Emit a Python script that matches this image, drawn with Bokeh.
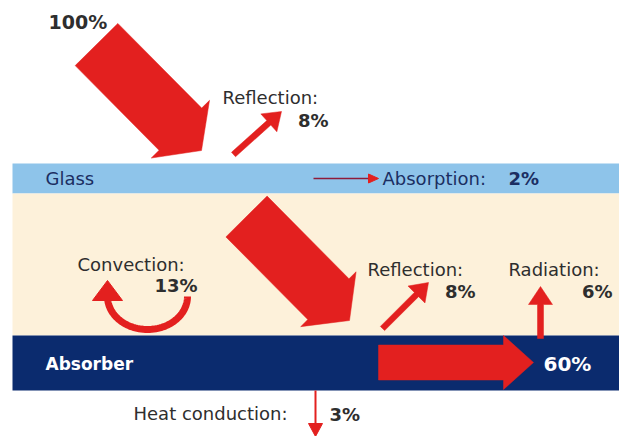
import math
from bokeh.plotting import figure
from bokeh.models import Range1d
from bokeh.core.properties import value
from bokeh.embed import file_html
from bokeh.resources import INLINE

# ---------------- data ----------------
incoming_pct = 100
layer_names = ["Glass", "Absorber"]
flow_names = ["Reflection:", "Absorption:", "Convection:", "Reflection:", "Radiation:", "Heat conduction:"]
flow_pcts = [8, 2, 13, 8, 6, 3]
useful_pct = 60

# ---------------- style ----------------
RED = "#E3201F"
GLASS = "#8EC4EA"
CREAM = "#FDF1DA"
NAVY = "#0B2B6E"
TXT = "#2E2E2E"
FONT = value("DejaVu Sans")
FS = "18px"
FB = "18px"

p = figure(width=619, height=436, output_backend="svg", toolbar_location=None,
           x_range=Range1d(0, 619), y_range=Range1d(436, 0), min_border=0)
p.axis.visible = False
p.grid.visible = False
p.outline_line_color = None
p.background_fill_color = "white"
p.border_fill_color = "white"

# layers
p.quad(left=[12], right=[640], top=[163], bottom=[193], fill_color=GLASS, line_color=None)
p.quad(left=[12], right=[640], top=[193], bottom=[335], fill_color=CREAM, line_color=None)
p.quad(left=[12], right=[640], top=[335], bottom=[390], fill_color=NAVY, line_color=None)


def arrow_poly(tx, ty, hx, hy, sw, hw, hl):
    dx, dy = hx - tx, hy - ty
    L = math.hypot(dx, dy)
    ux, uy = dx / L, dy / L
    px, py = -uy, ux
    bx, by = hx - ux * hl, hy - uy * hl
    pts = [
        (tx + px * sw / 2, ty + py * sw / 2),
        (bx + px * sw / 2, by + py * sw / 2),
        (bx + px * hw / 2, by + py * hw / 2),
        (hx, hy),
        (bx - px * hw / 2, by - py * hw / 2),
        (bx - px * sw / 2, by - py * sw / 2),
        (tx - px * sw / 2, ty - py * sw / 2),
    ]
    return [q[0] for q in pts], [q[1] for q in pts]


arrows = [
    (96, 44, 201, 150, 60, 82, 30),     # incoming
    (246, 216, 349, 320, 58, 78, 30),   # transmitted
    (233, 154, 281, 111, 6, 24, 17),    # reflection glass
    (382, 328, 428, 282, 6, 24, 17),    # reflection absorber
    (540, 338, 540, 286, 6, 24, 18),    # radiation
    (378, 362, 533, 362, 35, 54, 30),   # useful heat
]
xs, ys = [], []
for a in arrows:
    ax, ay = arrow_poly(*a)
    xs.append(ax)
    ys.append(ay)
p.patches(xs, ys, fill_color=RED, line_color=RED, line_width=0.5)

# absorption thin arrow
p.line([313, 372], [178, 178], line_color="#8E1B3A", line_width=1.5)
ax, ay = arrow_poly(368, 178, 378, 178, 0, 9, 10)
p.patch(ax, ay, fill_color=RED, line_color=RED)

# heat conduction thin arrow
p.line([315, 315], [390, 428], line_color=RED, line_width=2)
ax, ay = arrow_poly(315, 420, 315, 436, 0, 14, 13)
p.patch(ax, ay, fill_color=RED, line_color=RED)

# convection curved arrow
cx, cy, rx, ry = 147, 296, 40, 33
th = [i * math.pi / 60 for i in range(61)]
p.line([cx + rx * math.cos(t) for t in th], [cy + ry * math.sin(t) for t in th],
       line_color=RED, line_width=7)
ax, ay = arrow_poly(107, 300, 107, 280, 0, 30, 20)
p.patch(ax, ay, fill_color=RED, line_color=RED)


def txt(x, y, s, color=TXT, bold=False, align="left", size=None):
    if size is None:
        size = FB if bold else FS
    p.text(x=[x], y=[y], text=[s], text_font=FONT, text_font_size=size,
           text_font_style="bold" if bold else "normal", text_color=color,
           text_align=align, text_baseline="middle")


txt(48, 21, f"{incoming_pct}%", bold=True, size="19px")
txt(222, 97, flow_names[0])
txt(328, 120, f"{flow_pcts[0]}%", bold=True, align="right")
txt(45, 178, layer_names[0], color="#1B2E62")
txt(382, 178, flow_names[1], color="#1B2E62")
txt(508, 178, f"{flow_pcts[1]}%", bold=True, color="#1B2E62")
txt(77, 264, flow_names[2])
txt(197, 285, f"{flow_pcts[2]}%", bold=True, align="right")
txt(367, 269, flow_names[3])
txt(475, 291, f"{flow_pcts[3]}%", bold=True, align="right")
txt(508, 269, flow_names[4])
txt(612, 291, f"{flow_pcts[4]}%", bold=True, align="right")
txt(45, 363, layer_names[1], color="white", bold=True, size="17px")
txt(543, 363, f"{useful_pct}%", color="white", bold=True, size="20px")
txt(133, 413, flow_names[5])
txt(329, 414, f"{flow_pcts[5]}%", bold=True)

open("out.html", "w").write(file_html(p, INLINE))
